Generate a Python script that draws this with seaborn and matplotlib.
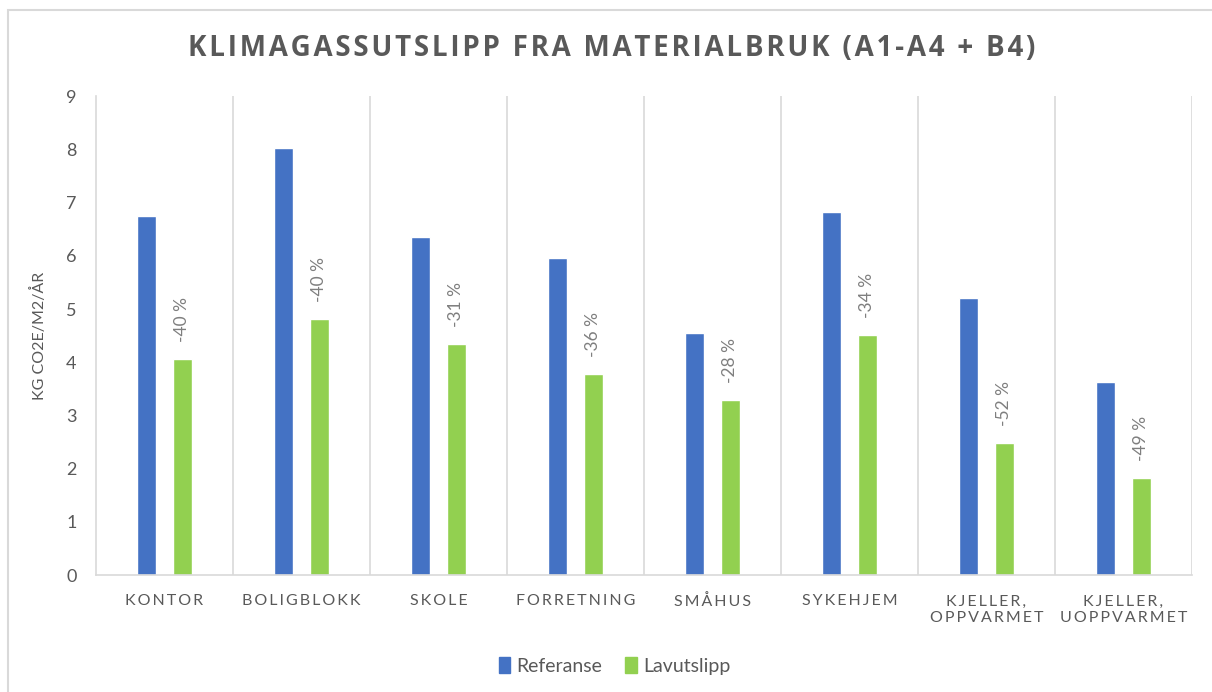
import pandas as pd
import numpy as np
import matplotlib
matplotlib.use("Agg")
import matplotlib.pyplot as plt
import seaborn as sbn
from matplotlib.patches import Rectangle

sbn.set_style("white")

# data
kategorier = ["KONTOR", "BOLIGBLOKK", "SKOLE", "FORRETNING", "SMÅHUS", "SYKEHJEM",
              "KJELLER,\nOPPVARMET", "KJELLER,\nUOPPVARMET"]
referanse = [6.75, 8.03, 6.35, 5.96, 4.55, 6.82, 5.21, 3.63]
lavutslipp = [4.06, 4.81, 4.35, 3.78, 3.29, 4.51, 2.48, 1.83]
endring = ["-40 %", "-40 %", "-31 %", "-36 %", "-28 %", "-34 %", "-52 %", "-49 %"]
serier = ["Referanse", "Lavutslipp"]
yticks = [0, 1, 2, 3, 4, 5, 6, 7, 8, 9]

farger = ["#4472C4", "#92D050"]
tekstgraa = "#595959"
linjegraa = "#D9D9D9"
fam = ["Lato", "DejaVu Sans"]

def sperret(s, mellom="\u2009"):
    # litt luft mellom bokstavene, som i Excel
    return "\n".join(mellom.join(list(linje)) for linje in s.split("\n"))

df = pd.DataFrame({
    "kategori": kategorier * 2,
    "verdi": referanse + lavutslipp,
    "serie": [serier[0]] * len(kategorier) + [serier[1]] * len(kategorier),
})

fig = plt.figure(figsize=(12.12, 6.92), dpi=100)
ax = fig.add_axes([0.0792, 0.169, 0.9043, 0.692])

sbn.barplot(data=df, x="kategori", y="verdi", hue="serie", palette=farger,
            width=0.52, gap=0.46, saturation=1, ax=ax, legend=False)

# prosent-etiketter over lavutslipp-søylene
ax.bar_label(ax.containers[1], labels=endring, rotation=90, padding=12,
             fontsize=12.5, color="#7F7F7F", family=fam)

ax.set_xlim(-0.5, len(kategorier) - 0.5)
ax.set_ylim(0, 9)
ax.set_yticks(yticks)
ax.set_yticklabels([str(t) for t in yticks], fontsize=13, color=tekstgraa, family=fam)
ax.set_xticks(range(len(kategorier)))
ax.set_xticklabels([sperret(k) for k in kategorier], fontsize=11.5, color=tekstgraa,
                   family=fam, linespacing=1.25)
ax.tick_params(axis="x", length=0, pad=14)
ax.tick_params(axis="y", length=6, color=linjegraa, width=1, pad=8, direction="out")

# vertikale skillelinjer mellom kategoriene
for i in range(len(kategorier)):
    ax.axvline(i + 0.5, color=linjegraa, lw=1.2, zorder=0)

for side in ["top", "right"]:
    ax.spines[side].set_visible(False)
for side in ["left", "bottom"]:
    ax.spines[side].set_color(linjegraa)
    ax.spines[side].set_linewidth(1.2)

ax.set_xlabel("")
ax.set_ylabel("KG CO2E/M2/ÅR", fontsize=11.5, color=tekstgraa, family=fam, labelpad=14)

fig.text(0.505, 0.93, sperret("KLIMAGASSUTSLIPP FRA MATERIALBRUK (A1-A4 + B4)", "\u200a"),
         ha="center", va="center", fontsize=20, fontweight="bold", color=tekstgraa,
         family=["Open Sans", "DejaVu Sans"])

handles = [Rectangle((0, 0), 1, 1, color=c) for c in farger]
fig.legend(handles, serier, loc="center", bbox_to_anchor=(0.507, 0.0376), ncol=2,
           frameon=False, handlelength=0.6, handleheight=0.9, handletextpad=0.3,
           columnspacing=1.2, prop={"family": fam, "size": 14}, labelcolor=tekstgraa)

# ramme rundt diagramområdet (venstre og topp synlig)
fig.patches.append(Rectangle((8 / 1212, -0.1), 1.2, 0.1 + (1 - 10 / 692),
                             transform=fig.transFigure, fill=False,
                             edgecolor=linjegraa, lw=1.5))

fig.savefig("out.png", dpi=100)
